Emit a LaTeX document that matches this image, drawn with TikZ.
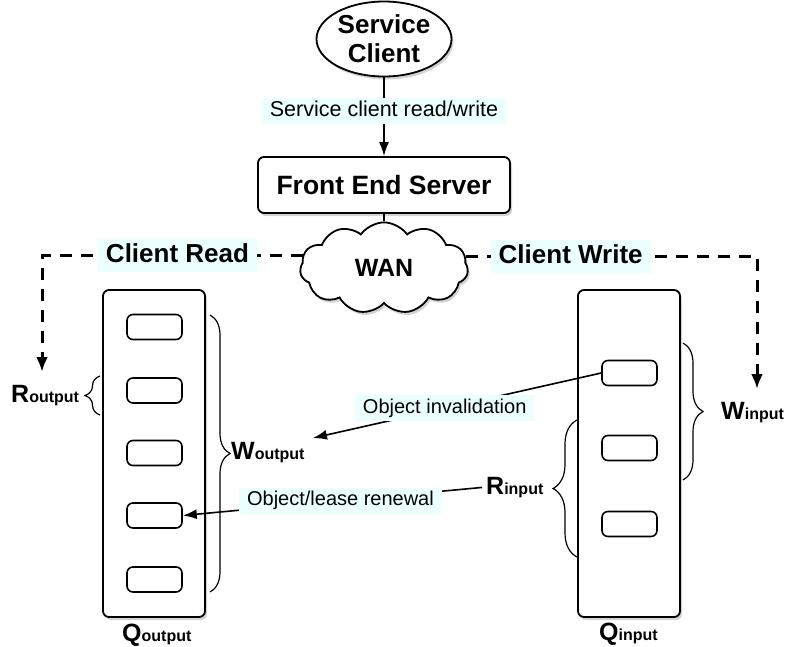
\documentclass[tikz,border=0pt]{standalone}
\usepackage{fontspec}
\setmainfont{Liberation Sans}
\usetikzlibrary{shapes.geometric,shapes.symbols,shadows,arrows.meta,decorations.pathreplacing}
\definecolor{lblbg}{RGB}{236,255,255}
\newcommand\mysub[2]{{\fontsize{25}{30}\selectfont\bfseries #1}{\fontsize{16}{20}\selectfont\bfseries #2}}
\begin{document}
\begin{tikzpicture}[x=1pt,y=-1pt,
  shd/.style={drop shadow={shadow xshift=2pt,shadow yshift=-3pt,opacity=0.35}},
  box/.style={draw, line width=1.8pt, rounded corners=6pt, fill=white, shd, inner sep=0pt},
  item/.style={draw, line width=1.6pt, rounded corners=6pt, fill=white, minimum width=55pt, minimum height=25pt, inner sep=0pt},
  lbl/.style={fill=lblbg, inner xsep=8pt, inner ysep=3pt, text height=15pt, text depth=5pt, font=\fontsize{20}{24}\selectfont},
  biglbl/.style={fill=lblbg, inner xsep=8pt, inner ysep=3.5pt, text height=20pt, text depth=6pt, font=\fontsize{26}{30}\selectfont\bfseries},
  conn/.style={line width=1.6pt, -{Latex[length=14pt,width=10pt]}},
  dconn/.style={line width=3pt, dash pattern=on 12pt off 9pt, -{Latex[length=15pt,width=12pt]}},
  brc/.style={line width=1.2pt, decorate, decoration={brace, amplitude=#1}},
  sublbl/.style={anchor=base west, inner sep=0pt}
]
\useasboundingbox (0,0) rectangle (787,646);

% top
\node[ellipse, draw, line width=1.8pt, fill=white, shd, minimum width=135pt, minimum height=75pt, inner sep=0pt, align=center, font=\fontsize{26}{29}\selectfont\bfseries] (sc) at (384,39) {Service\\Client};
\node[box, minimum width=252pt, minimum height=56pt, font=\fontsize{26.5}{30}\selectfont\bfseries] (fes) at (384,185) {Front End Server};
\node[cloud, cloud puffs=11, cloud puff arc=110, draw, line width=1.8pt, fill=white, shd, minimum width=168pt, minimum height=58pt, inner sep=0pt, font=\fontsize{25}{30}\selectfont\bfseries] (wan) at (384,268) {WAN};

\draw[conn] (sc.south) -- (fes.north) node[lbl, pos=0.43, font=\fontsize{21.5}{24}\selectfont] {Service client read/write};
\draw[line width=1.6pt] (fes.south) -- (wan.north);

\coordinate (rdEnd) at (42,372);
\coordinate (wrEnd) at (757,389);
\draw[dconn] (wan.171) -| (rdEnd) node[biglbl, pos=0.24] {Client Read};
\draw[dconn] (wan.8) -| (wrEnd) node[biglbl, pos=0.18] {Client Write};

% queues
\node[box, minimum width=102pt, minimum height=327pt] (qo) at (154,453.5) {};
\node[box, minimum width=102pt, minimum height=327pt] (qi) at (629,453.5) {};

\node[item] (o1) at (154.5,327) {};
\node[item] (o2) at (154.5,390.5) {};
\node[item] (o3) at (154.5,453) {};
\node[item] (o4) at (154.5,515.5) {};
\node[item] (o5) at (154.5,579.5) {};

\node[item] (i1) at (629.5,373) {};
\node[item] (i2) at (629.5,448) {};
\node[item] (i3) at (629.5,524) {};

% braces
\draw[brc=15pt] (100,415) -- (100,376);
\draw[brc=20pt] (210,315) -- (210,592);
\draw[brc=20pt] (683,343) -- (683,480);
\draw[brc=24pt] (577,557) -- (577,420);

% labels
\node[sublbl] (ro) at (11,402) {\mysub{R}{output}};
\node[sublbl] (wo) at (231,459) {\mysub{W}{output}};
\node[sublbl] (wi) at (721,419) {\mysub{W}{input}};
\node[sublbl] (ri) at (486,494) {\mysub{R}{input}};
\node[sublbl] (qol) at (122,641) {\mysub{Q}{output}};
\node[sublbl] (qil) at (599,640) {\mysub{Q}{input}};

% connectors
\coordinate (invEnd) at (313,438);
\draw[conn] (i1.west) -- (invEnd) node[lbl, pos=0.543] {Object invalidation};
\draw[conn, shorten <=4pt] (ri.west) -- (o4.east) node[lbl, pos=0.48] {Object/lease renewal};
\end{tikzpicture}
\end{document}
